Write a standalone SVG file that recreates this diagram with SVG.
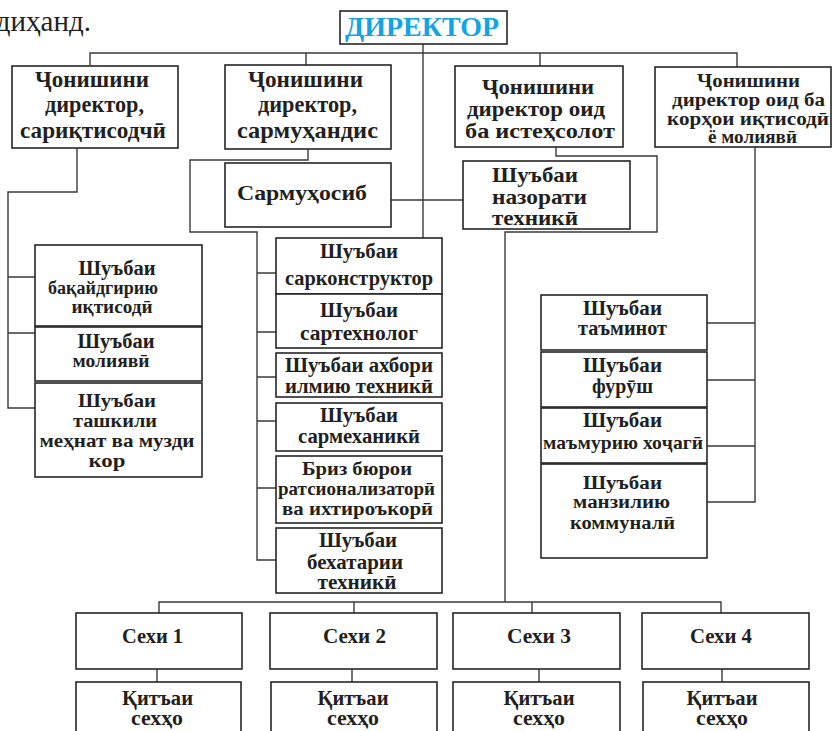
<svg xmlns="http://www.w3.org/2000/svg" width="834" height="731" viewBox="0 0 834 731">
<style>
.bx{fill:#fff;stroke:#262626;stroke-width:1.6}
.t{font-family:"Liberation Serif","Times New Roman",serif;font-weight:bold;fill:#231f20;text-anchor:middle;font-size:20px}
.l{text-anchor:start}
.s23{font-size:23px}
.s21{font-size:21px}
.s18{font-size:18px}
.s19{font-size:19px}
.cn{fill:none;stroke:#3a3a3a;stroke-width:1.4}
</style>
<rect width="834" height="731" fill="#fff"/>
<text x="91" y="31" font-family="'Liberation Serif','Times New Roman',serif" font-size="29" fill="#231f20" text-anchor="end">диҳанд.</text>

<g id="connectors" class="cn">
<path d="M90,65 V53 H737 V67"/>
<path d="M306,53 V65"/>
<path d="M540,53 V66"/>
<path d="M423,44 V238"/>
<path d="M77,148 V192 H8 V408 H35 M8,277 H35 M8,333 H35"/>
<path d="M308,149 V160 H190 V232 H257 V560 H276 M257,273 H276 M257,332 H276 M257,377 H276 M257,421 H276 M257,488 H276"/>
<path d="M391,200 H463"/>
<path d="M556,147 V156 H657 V232 H505 V602"/>
<path d="M755,147 V502 H707 M755,323 H707 M755,380 H707 M755,446 H707"/>
<path d="M159,613 V602 H721 V613 M354,602 V613 M532,602 V613"/>
<path d="M157,669 V682 M352,669 V682 M539,669 V682 M722,669 V682"/>
</g>

<g id="director">
<rect x="340" y="11" width="167" height="33" fill="#fff" stroke="#262626" stroke-width="1.6"/>
<text x="422" y="36" font-family="'Liberation Serif','Times New Roman',serif" font-weight="bold" font-size="28" fill="#13a5e3" text-anchor="middle" textLength="154" lengthAdjust="spacingAndGlyphs">ДИРЕКТОР</text>
</g>

<g id="dep-economist">
<rect class="bx" x="12" y="66" width="166" height="82"/>
<text class="t s23" x="92" y="87" textLength="114" lengthAdjust="spacingAndGlyphs">Ҷонишини</text>
<text class="t s23" x="94.5" y="112" textLength="99" lengthAdjust="spacingAndGlyphs">директор,</text>
<text class="t s23" x="93" y="138" textLength="146" lengthAdjust="spacingAndGlyphs">сариқтисодчӣ</text>
</g>
<g id="dep-engineer">
<rect class="bx" x="225" y="65" width="166" height="84"/>
<text class="t s23" x="305.5" y="87" textLength="115" lengthAdjust="spacingAndGlyphs">Ҷонишини</text>
<text class="t s23" x="307.5" y="112" textLength="99" lengthAdjust="spacingAndGlyphs">директор,</text>
<text class="t s23" x="307.5" y="138" textLength="141" lengthAdjust="spacingAndGlyphs">сармуҳандис</text>
</g>
<g id="dep-production">
<rect class="bx" x="455" y="66" width="168" height="81"/>
<text class="t s21" x="538" y="94" textLength="112" lengthAdjust="spacingAndGlyphs">Ҷонишини</text>
<text class="t s21" x="536" y="115.5" textLength="138" lengthAdjust="spacingAndGlyphs">директор оид</text>
<text class="t s21" x="540" y="137.5" textLength="150" lengthAdjust="spacingAndGlyphs">ба истеҳсолот</text>
</g>
<g id="dep-finance">
<rect class="bx" x="655" y="67" width="176" height="80"/>
<text class="t s18" x="748.5" y="87" textLength="103" lengthAdjust="spacingAndGlyphs">Ҷонишини</text>
<text class="t s18" x="748.5" y="106" textLength="153" lengthAdjust="spacingAndGlyphs">директор оид ба</text>
<text class="t s18" x="748" y="124.5" textLength="162" lengthAdjust="spacingAndGlyphs">корҳои  иқтисодӣ</text>
<text class="t s18" x="752.5" y="143" textLength="89" lengthAdjust="spacingAndGlyphs">ё молиявӣ</text>
</g>

<g id="chief-accountant">
<rect class="bx" x="225" y="163" width="166" height="64"/>
<text class="t" x="302" y="200" font-size="26" textLength="130" lengthAdjust="spacingAndGlyphs">Сармуҳосиб</text>
</g>
<g id="tech-control">
<rect class="bx" x="463" y="161" width="167" height="68"/>
<text class="t s21 l" x="492" y="182" textLength="86" lengthAdjust="spacingAndGlyphs">Шуъбаи</text>
<text class="t s21 l" x="492" y="203.5" textLength="95" lengthAdjust="spacingAndGlyphs">назорати</text>
<text class="t s21 l" x="492" y="225" textLength="86" lengthAdjust="spacingAndGlyphs">техникӣ</text>
</g>

<g id="accounting">
<rect class="bx" x="35" y="245" width="167" height="81"/>
<text class="t" x="117" y="275" textLength="77" lengthAdjust="spacingAndGlyphs">Шуъбаи</text>
<text class="t s18" x="103" y="294" textLength="110" lengthAdjust="spacingAndGlyphs">бақайдгирию</text>
<text class="t s18" x="112" y="313" textLength="81" lengthAdjust="spacingAndGlyphs">иқтисодӣ</text>
</g>
<g id="finance-dept">
<rect class="bx" x="35" y="327" width="167" height="54"/>
<text class="t" x="116" y="348" textLength="77" lengthAdjust="spacingAndGlyphs">Шуъбаи</text>
<text class="t s18" x="111" y="367" textLength="77" lengthAdjust="spacingAndGlyphs">молиявӣ</text>
</g>
<g id="labour-dept">
<rect class="bx" x="35" y="383" width="167" height="94"/>
<text class="t s19" x="117" y="407" textLength="78" lengthAdjust="spacingAndGlyphs">Шуъбаи</text>
<text class="t s19" x="115" y="427" textLength="84" lengthAdjust="spacingAndGlyphs">ташкили</text>
<text class="t s19" x="117" y="447" textLength="155" lengthAdjust="spacingAndGlyphs">меҳнат ва музди</text>
<text class="t s19" x="107" y="467" textLength="37" lengthAdjust="spacingAndGlyphs">кор</text>
</g>

<g id="designer-dept">
<rect class="bx" x="276" y="238" width="166" height="56"/>
<text class="t" x="359" y="258" textLength="78" lengthAdjust="spacingAndGlyphs">Шуъбаи</text>
<text class="t" x="359" y="285" textLength="148" lengthAdjust="spacingAndGlyphs">сарконструктор</text>
</g>
<g id="technologist-dept">
<rect class="bx" x="276" y="294" width="166" height="54"/>
<text class="t" x="359" y="317" textLength="78" lengthAdjust="spacingAndGlyphs">Шуъбаи</text>
<text class="t" x="359" y="340" textLength="118" lengthAdjust="spacingAndGlyphs">сартехнолог</text>
</g>
<g id="info-dept">
<rect class="bx" x="276" y="353" width="166" height="44"/>
<text class="t" x="359" y="372" textLength="148" lengthAdjust="spacingAndGlyphs">Шуъбаи ахбори</text>
<text class="t" x="359" y="393" textLength="148" lengthAdjust="spacingAndGlyphs">илмию техникӣ</text>
</g>
<g id="mechanic-dept">
<rect class="bx" x="276" y="403" width="166" height="48"/>
<text class="t" x="359" y="422" textLength="78" lengthAdjust="spacingAndGlyphs">Шуъбаи</text>
<text class="t" x="359" y="443" textLength="122" lengthAdjust="spacingAndGlyphs">сармеханикӣ</text>
</g>
<g id="rationalization-bureau">
<rect class="bx" x="276" y="456" width="166" height="67"/>
<text class="t s19" x="357" y="475" textLength="110" lengthAdjust="spacingAndGlyphs">Бриз бюрои</text>
<text class="t s19" x="356.5" y="495" textLength="157" lengthAdjust="spacingAndGlyphs">ратсионализаторӣ</text>
<text class="t s19" x="357.5" y="515" textLength="151" lengthAdjust="spacingAndGlyphs">ва ихтироъкорӣ</text>
</g>
<g id="safety-dept">
<rect class="bx" x="276" y="528" width="166" height="65"/>
<text class="t" x="358" y="547" textLength="78" lengthAdjust="spacingAndGlyphs">Шуъбаи</text>
<text class="t" x="355" y="569" textLength="96" lengthAdjust="spacingAndGlyphs">бехатарии</text>
<text class="t" x="357" y="589" textLength="79" lengthAdjust="spacingAndGlyphs">техникӣ</text>
</g>

<g id="supply-dept">
<rect class="bx" x="541" y="295" width="166" height="55"/>
<text class="t" x="622.5" y="315" textLength="79" lengthAdjust="spacingAndGlyphs">Шуъбаи</text>
<text class="t" x="622.5" y="335" textLength="89" lengthAdjust="spacingAndGlyphs">таъминот</text>
</g>
<g id="sales-dept">
<rect class="bx" x="541" y="352" width="166" height="55"/>
<text class="t" x="622.5" y="372" textLength="79" lengthAdjust="spacingAndGlyphs">Шуъбаи</text>
<text class="t" x="622.5" y="393" textLength="61" lengthAdjust="spacingAndGlyphs">фурӯш</text>
</g>
<g id="admin-dept">
<rect class="bx" x="541" y="408" width="166" height="55"/>
<text class="t" x="622.5" y="427" textLength="79" lengthAdjust="spacingAndGlyphs">Шуъбаи</text>
<text class="t s19" x="623" y="449" textLength="160" lengthAdjust="spacingAndGlyphs">маъмурию хоҷагӣ</text>
</g>
<g id="housing-dept">
<rect class="bx" x="541" y="464" width="166" height="94"/>
<text class="t s19" x="622.5" y="489" textLength="79" lengthAdjust="spacingAndGlyphs">Шуъбаи</text>
<text class="t s18" x="621.5" y="508" textLength="97" lengthAdjust="spacingAndGlyphs">манзилию</text>
<text class="t s19" x="622.5" y="529" textLength="105" lengthAdjust="spacingAndGlyphs">коммуналӣ</text>
</g>

<g id="shop-1">
<rect class="bx" x="76" y="613" width="166" height="56"/>
<text class="t" x="152.5" y="643" font-size="21" textLength="61" lengthAdjust="spacingAndGlyphs">Сехи 1</text>
</g>
<g id="shop-2">
<rect class="bx" x="270" y="613" width="167" height="56"/>
<text class="t" x="354.5" y="643" font-size="21" textLength="63" lengthAdjust="spacingAndGlyphs">Сехи 2</text>
</g>
<g id="shop-3">
<rect class="bx" x="453" y="613" width="167" height="56"/>
<text class="t" x="539" y="643" font-size="21" textLength="64" lengthAdjust="spacingAndGlyphs">Сехи 3</text>
</g>
<g id="shop-4">
<rect class="bx" x="642" y="613" width="167" height="56"/>
<text class="t" x="721" y="643" font-size="21" textLength="62" lengthAdjust="spacingAndGlyphs">Сехи 4</text>
</g>

<g id="section-1">
<rect class="bx" x="76" y="682" width="165" height="70"/>
<text class="t" x="157.5" y="705" textLength="71" lengthAdjust="spacingAndGlyphs">Қитъаи</text>
<text class="t" x="157" y="725" textLength="52" lengthAdjust="spacingAndGlyphs">сехҳо</text>
</g>
<g id="section-2">
<rect class="bx" x="271" y="682" width="166" height="70"/>
<text class="t" x="353" y="705" textLength="71" lengthAdjust="spacingAndGlyphs">Қитъаи</text>
<text class="t" x="353" y="725" textLength="52" lengthAdjust="spacingAndGlyphs">сехҳо</text>
</g>
<g id="section-3">
<rect class="bx" x="453" y="682" width="167" height="70"/>
<text class="t" x="539" y="705" textLength="71" lengthAdjust="spacingAndGlyphs">Қитъаи</text>
<text class="t" x="539" y="725" textLength="52" lengthAdjust="spacingAndGlyphs">сехҳо</text>
</g>
<g id="section-4">
<rect class="bx" x="643" y="682" width="166" height="70"/>
<text class="t" x="722" y="705" textLength="71" lengthAdjust="spacingAndGlyphs">Қитъаи</text>
<text class="t" x="722" y="725" textLength="52" lengthAdjust="spacingAndGlyphs">сехҳо</text>
</g>
</svg>
